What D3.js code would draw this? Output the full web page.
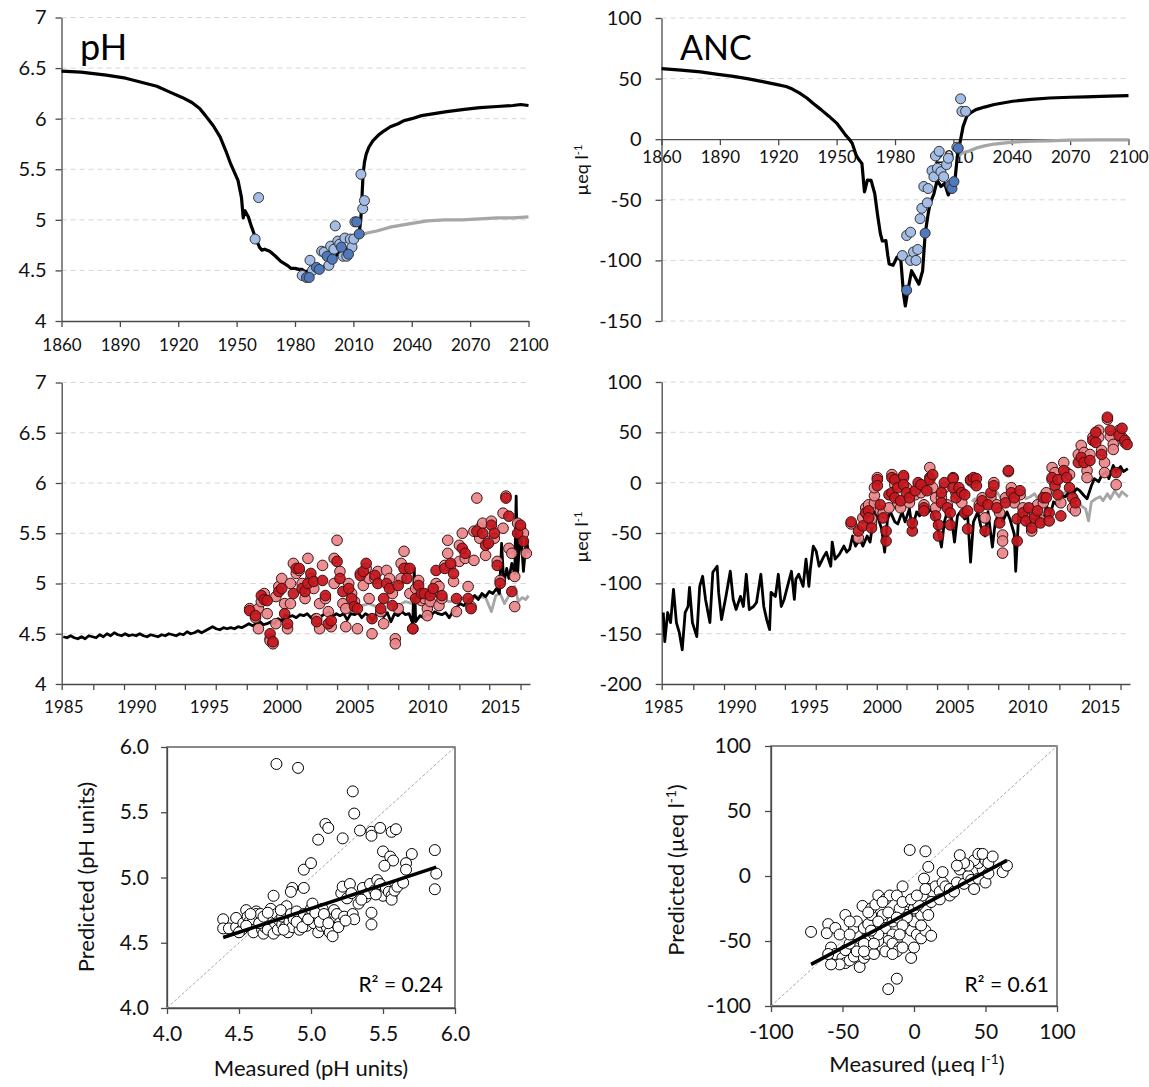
<!DOCTYPE html>
<html>
<head>
<meta charset="utf-8">
<script src="https://cdn.jsdelivr.net/npm/d3@7"></script>
<style>
  body { margin: 0; background: #fff; }
  svg { font-family: Lato, "Open Sans", sans-serif; }
  .grid line { stroke: #d6d6d6; stroke-width: 1; stroke-dasharray: 5,4; }
  .axis path, .axis line { stroke: #4a4a4a; stroke-width: 1.3; }
  .axis text { fill: #111; }
</style>
</head>
<body>
<svg id="chart" width="1149" height="1087"></svg>
<script>
// ---- tick labels ----
const longYears = [1860, 1890, 1920, 1950, 1980, 2010, 2040, 2070, 2100];
const monthLabels = [1985, 1990, 1995, 2000, 2005, 2010, 2015];
const monthTickMarks = [1984.89, 1987.06, 1989.17, 1991.3, 1993.35, 1995.47, 1997.6, 1999.66, 2001.7, 2003.8, 2005.9, 2008.0, 2010.07, 2012.2, 2014.25, 2016.4];
const phTicks = [4, 4.5, 5, 5.5, 6, 6.5, 7];
const ancLongTicks = [-150, -100, -50, 0, 50, 100];
const ancMonthTicks = [-200, -150, -100, -50, 0, 50, 100];
const phFitTicks = [4, 4.5, 5, 5.5, 6];
const ancFitTicks = [-100, -50, 0, 50, 100];

// ---- pH, 1860-2100 ----
const phHindcast = [[1860,6.47],[1870,6.46],[1883,6.43],[1893,6.40],[1901,6.36],[1909,6.32],[1916,6.26],[1922,6.21],[1927,6.16],[1931,6.10],[1934,6.03],[1938,5.93],[1941.5,5.82],[1944.5,5.68],[1947,5.55],[1950.7,5.39],[1952.5,5.22],[1953.4,5.02],[1954.3,5.09],[1956,5.03],[1957.5,4.94],[1959,4.86],[1961.7,4.73],[1963,4.70],[1964.4,4.71],[1967,4.69],[1970,4.64],[1972.7,4.59],[1976,4.55],[1978,4.52],[1980,4.52],[1982,4.51],[1983.7,4.51],[1985,4.49],[1987,4.49],[1989,4.50],[1991,4.50],[1993,4.52],[1994.6,4.53],[1996,4.56],[1998,4.59],[2000,4.62],[2002,4.66],[2004,4.69],[2005.6,4.71],[2007,4.72],[2009,4.73],[2011,4.78],[2012,4.82],[2013,4.88],[2013.7,4.98],[2014.2,5.12],[2014.6,5.30],[2015,5.45],[2015.7,5.57],[2016.6,5.65],[2018,5.72],[2020,5.78],[2023,5.84],[2025.8,5.88],[2029,5.92],[2033,5.95],[2036,5.98],[2040,6.00],[2045,6.03],[2051.5,6.05],[2058,6.07],[2066,6.09],[2075,6.11],[2084,6.12],[2092,6.13],[2096,6.14],[2100,6.13]];
const phScenario = [[2010,4.80],[2013,4.84],[2017,4.87],[2022,4.89],[2029.5,4.93],[2038.6,4.96],[2048,4.99],[2057,5.0],[2066,5.0],[2075,5.01],[2084,5.02],[2092,5.02],[2100,5.03]];
const phObsLight = [[1961.3,5.22],[1959.5,4.81],[1983.7,4.45],[1987.7,4.60],[1989,4.50],[1993.7,4.69],[1995,4.68],[1997.4,4.55],[1998.3,4.74],[2000,4.71],[2000.7,4.94],[2002,4.79],[2003,4.76],[2004.7,4.64],[2005.6,4.82],[2006.6,4.64],[2008.4,4.81],[2009.3,4.73],[2010.2,4.81],[2010.8,4.98],[2013.9,5.45],[2014.8,5.11],[2015.7,5.19]];
const phObsDark = [[1985.9,4.43],[1987.3,4.43],[1991,4.53],[1992.5,4.51],[1996.5,4.64],[1999.2,4.61],[2003.8,4.73],[2007.5,4.66],[2011.7,4.98],[2013,4.86]];

// ---- ANC, 1860-2100 ----
const ancHindcast = [[1860,58.2],[1870,57],[1880,55.5],[1889,53.5],[1897,51.8],[1904,50],[1912,47.5],[1919.5,45],[1924,43.5],[1927,41.6],[1931,38],[1934.7,34],[1938,29.5],[1942,24.4],[1946,19],[1950,13.3],[1952.5,8],[1954.5,3.6],[1956.5,0],[1958,-3.3],[1959,-8],[1960,-13],[1961.5,-17],[1963,-20],[1964.3,-43.5],[1965.8,-33.7],[1967.7,-34],[1969.6,-45],[1971,-62],[1972.5,-78],[1973.5,-84],[1974.2,-84],[1975.3,-83.6],[1976.3,-96],[1977,-103],[1979,-104],[1981,-97.4],[1982,-98],[1983,-100],[1984.4,-128],[1985.3,-137.6],[1986.6,-125],[1988.5,-108.5],[1990.4,-114],[1992.3,-119.6],[1994.2,-108.5],[1995.5,-78],[1997,-62],[1998,-53],[2000,-45],[2001.7,-33.7],[2003.6,-39],[2005.5,-36.5],[2007.4,-46],[2009.3,-38],[2011,-31],[2012,-14.4],[2013,-6],[2014,2],[2015,10.6],[2016.9,19],[2019,22],[2021.6,24.4],[2026,26.5],[2031,28.6],[2040.5,31.3],[2050,32.8],[2059.4,34],[2070,34.6],[2078,35],[2090,35.5],[2100,36]];
const ancScenario = [[2012,-14],[2015,-11],[2017.8,-10],[2021.6,-7.4],[2026,-5.5],[2031,-4],[2040.5,-2.4],[2050,-1.7],[2059,-1.3],[2070,-0.8],[2084,-0.5],[2100,-0.5]];
const ancObsLight = [[1983.8,-96],[1986,-79.5],[1988,-76.7],[1988,-100],[1989.5,-93],[1990.8,-100],[1991.7,-91],[1992.9,-65.6],[1993.8,-57],[1996.6,-52.5],[1994.8,-39],[1997,-40.7],[1999,-26],[2000,-31],[2000.8,-13.8],[2001.8,-24],[2002.7,-10],[2003.6,-26.8],[2005,-31],[2006.5,-21],[2007.4,-15.7],[2011.8,-6.6],[2013.7,33.3],[2014.4,23],[2016.3,23]];
const ancObsDark = [[1986,-124.6],[1995.5,-77.5],[2008.4,-38],[2009.3,-40.7],[2010.3,-35],[2012.5,-7.4]];

// ---- pH, 1985-2017 ----
const phMonthly = [[1985.0,4.47],[1985.25,4.46],[1985.5,4.48],[1985.75,4.46],[1986.0,4.45],[1986.25,4.47],[1986.5,4.45],[1986.75,4.48],[1987.0,4.47],[1987.25,4.46],[1987.5,4.49],[1987.75,4.47],[1988.0,4.5],[1988.25,4.48],[1988.5,4.51],[1988.75,4.49],[1989.0,4.48],[1989.25,4.5],[1989.5,4.48],[1989.75,4.49],[1990.0,4.48],[1990.25,4.5],[1990.5,4.48],[1990.75,4.47],[1991.0,4.49],[1991.25,4.48],[1991.5,4.47],[1991.75,4.49],[1992.0,4.48],[1992.25,4.5],[1992.5,4.49],[1992.75,4.48],[1993.0,4.5],[1993.25,4.49],[1993.5,4.52],[1993.75,4.5],[1994.0,4.51],[1994.25,4.53],[1994.5,4.51],[1994.75,4.53],[1995.0,4.55],[1995.25,4.57],[1995.5,4.55],[1995.75,4.54],[1996.0,4.56],[1996.25,4.55],[1996.5,4.56],[1996.75,4.55],[1997.0,4.57],[1997.25,4.56],[1997.5,4.58],[1997.75,4.6],[1998.0,4.58],[1998.25,4.6],[1998.5,4.62],[1998.75,4.59],[1999.0,4.6],[1999.25,4.62],[1999.5,4.6],[1999.75,4.65],[2000.0,4.63],[2000.25,4.69],[2000.5,4.67],[2000.75,4.68],[2001.0,4.66],[2001.25,4.69],[2001.5,4.68],[2001.75,4.7],[2002.0,4.66],[2002.25,4.69],[2002.5,4.63],[2002.75,4.68],[2003.0,4.7],[2003.25,4.72],[2003.5,4.67],[2003.75,4.7],[2004.0,4.68],[2004.25,4.7],[2004.5,4.64],[2004.75,4.7],[2005.0,4.69],[2005.25,4.71],[2005.5,4.66],[2005.75,4.7],[2006.0,4.68],[2006.25,4.63],[2006.5,4.7],[2006.75,4.72],[2007.0,4.67],[2007.25,4.71],[2007.5,4.62],[2007.75,4.7],[2008.0,4.68],[2008.25,4.72],[2008.5,4.69],[2008.75,4.7],[2009.0,4.6],[2009.1,5.15],[2009.2,4.62],[2009.5,4.68],[2009.75,4.66],[2010.0,4.7],[2010.25,4.68],[2010.5,4.72],[2010.75,4.7],[2011.0,4.69],[2011.25,4.71],[2011.5,4.66],[2011.75,4.72],[2012.0,4.76],[2012.25,4.8],[2012.5,4.78],[2012.75,4.82],[2013.0,4.85],[2013.25,4.88],[2013.5,4.84],[2013.75,4.9],[2014.0,4.87],[2014.25,4.92],[2014.5,4.9],[2014.75,4.95],[2014.95,4.9],[2015.1,5.4],[2015.25,5.0],[2015.45,5.15],[2015.6,5.05],[2015.8,5.2],[2016.0,5.1],[2016.1,5.87],[2016.2,5.1],[2016.4,5.55],[2016.6,5.12],[2016.8,5.45],[2016.95,5.3]];
const phMonthlyAlt = [[2004.5,4.7],[2005.0,4.76],[2005.5,4.78],[2006.0,4.8],[2006.5,4.77],[2007.0,4.82],[2007.5,4.8],[2008.0,4.78],[2008.5,4.82],[2009.0,4.8],[2009.5,4.84],[2010.0,4.82],[2010.5,4.8],[2011.0,4.85],[2011.5,4.82],[2012.0,4.83],[2012.5,4.86],[2013.0,4.84],[2013.5,4.87],[2014.0,4.86],[2014.4,4.72],[2014.7,4.88],[2015.0,4.9],[2015.3,4.8],[2015.6,4.88],[2016.0,4.97],[2016.25,4.82],[2016.5,4.86],[2016.75,4.84],[2016.95,4.88]];
const phSampleLight = [[1997.8,4.75],[1998.2,4.66],[1998.4,4.55],[1998.4,4.75],[1998.6,4.82],[1998.8,4.9],[1999.0,4.7],[1999.2,4.45],[1999.2,4.43],[1999.4,4.4],[1999.6,4.6],[1999.6,4.87],[1999.8,4.97],[2000.0,5.05],[2000.2,4.8],[2000.4,4.55],[2000.6,4.8],[2000.6,5.0],[2000.8,5.2],[2001.0,5.1],[2001.2,5.13],[2001.4,5.0],[2001.6,4.85],[2001.8,5.25],[2002.0,5.05],[2002.2,4.95],[2002.4,4.65],[2002.6,4.55],[2002.6,4.8],[2002.8,5.18],[2003.0,4.85],[2003.2,4.72],[2003.4,4.57],[2003.6,5.0],[2003.6,5.25],[2003.8,5.43],[2004.0,5.12],[2004.2,4.8],[2004.4,4.75],[2004.4,4.57],[2004.6,5.0],[2004.8,4.9],[2005.0,4.82],[2005.2,4.55],[2005.4,5.1],[2005.6,4.98],[2005.8,5.15],[2006.0,5.05],[2006.0,4.85],[2006.2,4.5],[2006.4,5.05],[2006.6,5.12],[2006.8,4.72],[2007.0,4.6],[2007.2,5.13],[2007.4,5.05],[2007.6,4.9],[2007.8,4.45],[2007.8,4.4],[2008.0,4.75],[2008.2,5.05],[2008.2,5.2],[2008.4,5.32],[2008.6,5.15],[2008.8,4.9],[2009.0,4.55],[2009.2,4.95],[2009.4,5.03],[2009.6,4.83],[2009.8,4.85],[2010.0,4.75],[2010.0,4.68],[2010.2,4.82],[2010.4,4.92],[2010.6,5.0],[2010.8,4.97],[2010.8,4.78],[2011.0,4.85],[2011.2,5.18],[2011.4,5.3],[2011.4,5.43],[2011.6,5.18],[2011.8,5.02],[2012.0,4.72],[2012.2,5.22],[2012.2,5.38],[2012.4,5.5],[2012.6,5.25],[2012.8,4.97],[2013.0,4.77],[2013.2,5.23],[2013.2,5.52],[2013.4,5.85],[2013.6,5.45],[2013.6,5.55],[2013.8,5.6],[2014.0,5.28],[2014.2,5.42],[2014.4,5.62],[2014.6,5.45],[2014.8,5.22],[2015.0,5.03],[2015.2,5.55],[2015.2,5.7],[2015.4,5.87],[2015.6,5.35],[2015.8,5.3],[2016.0,4.77],[2016.0,5.07],[2016.2,5.6],[2016.4,5.55],[2016.6,5.5],[2016.8,5.3]];
const phSampleDark = [[1997.8,4.73],[1998.2,4.68],[1998.6,4.88],[1998.8,4.84],[1999.0,4.83],[1999.2,4.5],[1999.4,4.42],[1999.8,4.92],[2000.0,4.95],[2000.2,4.7],[2000.4,4.6],[2000.8,4.9],[2001.0,5.15],[2001.2,5.15],[2001.4,4.95],[2001.6,4.92],[2001.8,5.0],[2002.0,5.1],[2002.2,5.02],[2002.4,4.62],[2002.8,5.03],[2003.0,4.88],[2003.2,4.6],[2003.4,4.63],[2003.8,5.22],[2004.0,5.05],[2004.2,4.92],[2004.6,4.95],[2004.8,4.85],[2005.0,4.77],[2005.2,4.75],[2005.4,5.08],[2005.6,5.12],[2005.8,5.2],[2006.2,4.65],[2006.4,5.08],[2006.6,5.0],[2006.8,4.75],[2007.0,4.85],[2007.2,5.0],[2007.4,4.95],[2007.6,4.78],[2008.0,4.98],[2008.4,5.15],[2008.6,5.05],[2008.8,5.15],[2009.0,4.55],[2009.2,4.85],[2009.4,4.98],[2009.6,4.9],[2009.8,4.9],[2010.2,4.88],[2010.4,4.95],[2010.6,5.13],[2011.0,4.88],[2011.2,5.15],[2011.6,5.2],[2011.8,5.1],[2012.0,4.85],[2012.4,5.35],[2012.6,5.3],[2012.8,4.85],[2013.0,4.75],[2013.4,5.52],[2013.8,5.5],[2014.0,5.38],[2014.2,5.4],[2014.4,5.58],[2014.6,5.5],[2014.8,5.18],[2015.0,5.0],[2015.4,5.85],[2015.6,5.67],[2015.8,4.92],[2016.2,5.5],[2016.4,5.58],[2016.6,5.42]];

// ---- ANC, 1985-2017 ----
const ancMonthly = [[1985,-129],[1985.1,-158],[1985.3,-129],[1985.5,-139],[1985.7,-106],[1985.9,-139],[1986.1,-149],[1986.3,-166],[1986.5,-129],[1986.7,-123],[1986.8,-104],[1987,-139],[1987.3,-153],[1987.5,-103],[1987.7,-93],[1987.9,-116],[1988.2,-139],[1988.4,-89],[1988.7,-83],[1988.8,-109],[1989,-136],[1989.3,-113],[1989.6,-88],[1989.8,-116],[1990,-126],[1990.3,-113],[1990.5,-123],[1990.7,-91],[1990.9,-126],[1991.2,-123],[1991.4,-119],[1991.7,-91],[1991.9,-123],[1992.1,-136],[1992.3,-146],[1992.4,-109],[1992.7,-113],[1992.9,-91],[1993.1,-123],[1993.3,-116],[1993.6,-99],[1993.8,-88],[1994,-116],[1994.1,-96],[1994.3,-91],[1994.6,-103],[1994.8,-76],[1995,-103],[1995.1,-86],[1995.3,-63],[1995.5,-68],[1995.7,-83],[1996,-74],[1996.2,-69],[1996.5,-83],[1996.6,-59],[1996.8,-76],[1997.1,-71],[1997.4,-63],[1997.6,-69],[1997.8,-66],[1998,-53],[1998.2,-63],[1998.5,-56],[1998.7,-63],[1999,-53],[1999.2,-59],[1999.5,-29],[1999.7,-33],[2000,-46],[2000.2,-69],[2000.4,-36],[2000.6,-29],[2000.9,-39],[2001.1,-41],[2001.4,-29],[2001.6,-39],[2001.9,-26],[2002.1,-46],[2002.4,-29],[2002.6,-33],[2002.9,-26],[2003.1,-31],[2003.4,-26],[2003.7,-39],[2003.9,-49],[2004.1,-64],[2004.3,-39],[2004.5,-29],[2004.8,-36],[2005,-59],[2005.2,-33],[2005.4,-29],[2005.7,-36],[2005.9,-33],[2006.1,-79],[2006.3,-39],[2006.6,-29],[2006.8,-43],[2007.1,-53],[2007.3,-29],[2007.6,-64],[2007.8,-39],[2008.1,-29],[2008.3,-39],[2008.6,-29],[2008.8,-36],[2009.1,-51],[2009.2,-88],[2009.4,-33],[2009.6,-26],[2009.8,-33],[2010.1,-49],[2010.3,-33],[2010.6,-39],[2010.8,-29],[2011.1,-41],[2011.3,-23],[2011.6,-31],[2011.8,-19],[2012.1,-23],[2012.4,-13],[2012.6,-14],[2012.9,-9],[2013.1,-11],[2013.4,-6],[2013.6,-8],[2013.9,-13],[2014.1,-16],[2014.4,-3],[2014.6,4],[2014.9,1],[2015.1,7],[2015.4,11],[2015.6,4],[2015.9,17],[2016.1,11],[2016.4,16],[2016.6,11],[2016.9,14]];
const ancMonthlyAlt = [[2006.2,-19],[2006.4,-16],[2006.7,-23],[2006.9,-14],[2007.2,-19],[2007.4,-11],[2007.7,-16],[2007.9,-9],[2008.2,-16],[2008.4,-11],[2008.7,-19],[2008.9,-14],[2009.2,-23],[2009.4,-13],[2009.7,-9],[2009.9,-16],[2010.2,-14],[2010.5,-11],[2010.7,-16],[2011,-9],[2011.2,-14],[2011.5,-11],[2011.7,-8],[2012,-13],[2012.2,-9],[2012.5,-11],[2012.7,-8],[2013,-11],[2013.2,-9],[2013.5,-16],[2013.7,-23],[2014,-26],[2014.2,-38],[2014.4,-19],[2014.7,-16],[2015,-14],[2015.2,-18],[2015.5,-11],[2015.7,-16],[2016,-8],[2016.3,-14],[2016.5,-9],[2016.9,-14]];
const ancSampleLight = [[1997.9,-41],[1998.4,-55],[1998.7,-35],[1998.9,-25],[1999.1,-22],[1999.3,-40],[1999.3,-36],[1999.5,-20],[1999.5,-13],[1999.5,-5],[1999.7,5],[1999.9,-28],[2000.1,-30],[2000.5,-25],[2000.7,8],[2000.9,-2],[2001.1,-20],[2001.3,-25],[2001.5,5],[2001.7,-5],[2001.9,-20],[2002.3,-12],[2002.5,-5],[2002.7,-10],[2002.9,-22],[2003.1,-5],[2003.3,15],[2003.5,-5],[2003.7,-25],[2003.7,-15],[2004.1,-15],[2004.3,-5],[2004.5,-22],[2004.9,5],[2005.1,-10],[2005.3,-12],[2005.5,-20],[2006.1,2],[2006.3,0],[2006.7,-22],[2006.9,-15],[2007.1,-35],[2007.3,-20],[2007.5,-15],[2007.7,0],[2007.9,-22],[2008.1,-30],[2008.3,-52],[2008.3,-58],[2008.3,-70],[2008.5,-15],[2008.7,11],[2008.9,-5],[2009.1,-20],[2009.5,-12],[2009.7,-25],[2009.9,-33],[2010.1,-30],[2010.3,-48],[2010.5,-30],[2010.7,-22],[2010.9,-37],[2011.1,-20],[2011.3,-10],[2011.7,3],[2011.7,15],[2011.9,10],[2012.3,-20],[2012.5,20],[2012.7,10],[2012.9,8],[2013.1,-25],[2013.3,-28],[2013.5,28],[2013.7,37],[2013.9,30],[2014.1,12],[2014.1,5],[2014.3,28],[2014.5,45],[2014.9,52],[2014.9,45],[2015.1,32],[2015.3,20],[2015.3,10],[2015.5,63],[2015.7,46],[2015.9,38],[2015.9,33],[2016.1,-2],[2016.3,52],[2016.5,45],[2016.7,40]];
const ancSampleDark = [[1997.9,-39],[1998.4,-48],[1998.7,-43],[1998.9,-30],[1999.1,-28],[1999.1,-35],[1999.3,-45],[1999.7,3],[1999.7,-3],[1999.9,-22],[2000.1,-35],[2000.3,-58],[2000.3,-48],[2000.5,-12],[2000.7,5],[2000.7,-10],[2000.9,3],[2000.9,-15],[2001.1,-5],[2001.3,-18],[2001.5,7],[2001.5,-2],[2001.7,-10],[2001.9,-15],[2002.1,-48],[2002.1,-40],[2002.3,-8],[2002.5,0],[2002.7,-2],[2002.9,-25],[2002.9,-28],[2003.1,-8],[2003.3,5],[2003.3,3],[2003.5,8],[2003.7,-33],[2003.9,-53],[2003.9,-42],[2004.1,-10],[2004.1,-20],[2004.3,0],[2004.5,-25],[2004.7,-42],[2004.7,-30],[2004.9,4],[2004.9,-5],[2005.1,-15],[2005.3,-5],[2005.5,-10],[2005.7,-30],[2005.7,-12],[2005.9,-46],[2005.9,-28],[2006.1,3],[2006.3,5],[2006.5,4],[2006.5,-3],[2006.7,-25],[2006.9,-18],[2007.1,-48],[2007.3,-22],[2007.5,-10],[2007.7,-3],[2007.9,-25],[2008.1,-40],[2008.5,-20],[2008.7,12],[2008.9,-10],[2009.1,-15],[2009.3,-58],[2009.3,-36],[2009.5,-8],[2009.7,-30],[2009.9,-38],[2010.1,-25],[2010.3,-45],[2010.5,-35],[2010.7,-28],[2010.9,-40],[2011.1,-15],[2011.3,-15],[2011.5,-30],[2011.5,-38],[2011.7,5],[2011.9,-3],[2012.1,3],[2012.1,-12],[2012.3,-33],[2012.5,12],[2012.7,5],[2012.9,-5],[2013.1,-15],[2013.3,-20],[2013.5,20],[2013.7,25],[2013.9,20],[2014.3,22],[2014.5,42],[2014.7,50],[2014.7,40],[2015.1,28],[2015.5,65],[2015.7,52],[2016.1,10],[2016.3,47],[2016.5,54],[2016.7,42],[2016.85,38]];

// ---- measured vs predicted ----
const phFit = [[4.76,5.87],[4.91,5.84],[5.29,5.66],[5.3,5.49],[5.1,5.41],[5.12,5.38],[5.05,5.29],[5.22,5.3],[5.34,5.36],[5.42,5.35],[5.42,5.32],[5.48,5.38],[5.56,5.35],[5.59,5.37],[4.95,5.06],[5.0,5.11],[5.5,5.2],[5.55,5.16],[5.57,5.13],[5.7,5.18],[5.66,5.11],[5.66,5.06],[5.86,5.21],[5.87,5.03],[5.86,4.91],[5.51,5.09],[4.87,4.92],[4.95,4.92],[4.74,4.86],[4.86,4.89],
  [4.39,4.68],[4.39,4.61],[4.43,4.61],[4.48,4.62],[4.48,4.69],[4.52,4.6],[4.53,4.65],[4.55,4.75],[4.56,4.7],[4.57,4.66],[4.59,4.62],[4.6,4.68],[4.6,4.58],[4.62,4.74],[4.62,4.72],[4.65,4.72],[4.66,4.6],[4.67,4.57],[4.68,4.62],[4.69,4.67],[4.7,4.6],[4.72,4.76],[4.73,4.7],[4.74,4.57],[4.75,4.65],[4.76,4.72],[4.77,4.6],[4.78,4.67],[4.8,4.64],[4.8,4.7],[4.82,4.62],[4.83,4.78],[4.84,4.58],[4.85,4.66],[4.86,4.72],[4.87,4.62],[4.88,4.68],[4.9,4.74],[4.92,4.6],[4.93,4.67],[4.95,4.72],[4.97,4.63],[4.99,4.7],[5.0,4.76],[5.01,4.8],[5.02,4.65],[5.04,4.7],[5.05,4.58],[5.07,4.63],[5.08,4.76],[5.1,4.68],[5.11,4.62],[5.13,4.58],[5.15,4.55],[5.16,4.75],[5.17,4.66],[5.18,4.72],[5.2,4.65],[5.21,4.88],[5.22,4.93],[5.23,4.7],[5.25,4.84],[5.27,4.95],[5.29,4.72],[5.3,4.68],[5.33,4.8],[5.36,4.92],[5.38,4.85],[5.4,4.88],[5.41,4.95],[5.42,4.73],[5.42,4.64],[5.44,4.9],[5.46,4.98],[5.48,4.95],[5.5,4.86],[5.52,4.92],[5.54,4.89],[5.56,4.86],[5.56,4.83],[5.58,4.9],[5.6,4.93],[5.64,4.96],
  [4.5,4.58],[4.55,4.63],[4.58,4.72],[4.64,4.65],[4.67,4.7],[4.7,4.73],[4.79,4.75],[4.81,4.6],[4.9,4.66],[4.94,4.62],[4.98,4.68],[5.03,4.73],[5.06,4.66],[5.09,4.72],[5.12,4.65],[5.19,4.62],[5.24,4.67],[5.28,4.88],[5.35,4.83],[5.45,4.87]];
const phFitLine = [[4.39,4.54],[5.87,5.08]];
const ancFit = [[-72,-43],[-3,20],[8,19],[-18,-87],[-12,-79],[-2,-63],[10,7],[7,-2],
  [-60,-37],[-61,-44],[-55,-40],[-52,-45],[-58,-55],[-55,-60],[-50,-63],[-48,-67],[-45,-65],[-42,-62],[-48,-57],[-45,-52],[-40,-58],[-38,-70],[-35,-63],[-33,-60],[-30,-55],[-38,-48],[-35,-52],[-40,-45],[-42,-40],[-48,-30],[-40,-35],[-35,-40],[-32,-37],[-30,-30],[-36,-23],[-30,-25],[-27,-22],[-25,-15],[-20,-18],[-17,-15],[-12,-15],[-8,-8],[-22,-30],[-25,-35],[-20,-40],[-15,-45],[-12,-50],[-18,-50],[-22,-55],[-28,-45],[-25,-50],[-20,-58],[-15,-52],[-10,-55],[-12,-58],[-5,-40],[-2,-42],[2,-45],[5,-48],[8,-42],[12,-46],[0,-35],[5,-30],[8,-25],[10,-30],[-5,-30],[-10,-25],[-3,-20],[0,-25],[3,-22],[6,-15],[10,-10],[13,-12],[15,-8],[18,-12],[20,-5],[22,-8],[25,-10],[20,3],[25,-15],[28,-12],[30,-5],[32,5],[35,-6],[38,0],[40,-3],[42,-10],[45,-2],[48,5],[50,-5],[52,2],[45,10],[48,15],[50,12],[42,12],[38,8],[35,10],[30,8],[32,16],[45,17],[48,17],[52,10],[62,3],[65,8],[55,15],
  [-8,-55],[-5,-32],[-15,-35],[-28,-60],[-45,-45],[-52,-68],[-58,-68],[-60,-60],[-25,-45],[-30,-42],[-18,-28],[-22,-20],[-12,-32],[-8,-20],[-2,-18],[2,-15],[12,-20],[18,-18],[8,-10],[-8,-38],[-32,-28],[-45,-35],[-28,-52],[-35,-58],[-10,-45],[-15,-60],[0,-55],[5,-38]];
const ancFitLine = [[-72,-68],[65,12]];

const svg = d3.select("#chart");
const plain = d => String(d);

function grid(x, y, vals) {
    svg.append("g").attr("class", "grid")
        .selectAll("line").data(vals).join("line")
        .attr("x1", x.range()[0]).attr("x2", x.range()[1])
        .attr("y1", d => y(d)).attr("y2", d => y(d));
}

function leftAxis(x0, y, ticks, fmt, size, pad) {
    svg.append("g").attr("class", "axis")
        .attr("transform", "translate(" + x0 + ",0)")
        .call(d3.axisLeft(y).tickValues(ticks).tickFormat(fmt).tickSize(6).tickSizeOuter(0).tickPadding(pad))
        .attr("font-family", null).attr("font-size", size);
}

function bottomAxis(y0, x, ticks, fmt, size, pad, tickLen) {
    return svg.append("g").attr("class", "axis")
        .attr("transform", "translate(0," + y0 + ")")
        .call(d3.axisBottom(x).tickValues(ticks).tickFormat(fmt).tickSize(tickLen).tickSizeOuter(0).tickPadding(pad))
        .attr("font-family", null).attr("font-size", size);
}

function line(x, y, data, color, width) {
    return svg.append("path").datum(data)
        .attr("fill", "none").attr("stroke", color).attr("stroke-width", width)
        .attr("stroke-linejoin", "round")
        .attr("d", d3.line().x(d => x(d[0])).y(d => y(d[1])));
}

function dots(x, y, data, fill, r, stroke, op) {
    svg.append("g").selectAll("circle").data(data).join("circle")
        .attr("cx", d => x(d[0])).attr("cy", d => y(d[1])).attr("r", r)
        .attr("fill", fill).attr("fill-opacity", op)
        .attr("stroke", stroke).attr("stroke-width", 1);
}

function unitLabel(tx, ty, rotate, size, pre, sup, post) {
    const t = svg.append("text")
        .attr("transform", "translate(" + tx + "," + ty + ")" + (rotate ? " rotate(-90)" : ""))
        .attr("text-anchor", "middle").attr("font-size", size).attr("fill", "#111");
    t.append("tspan").text(pre);
    if (sup) {
        t.append("tspan").attr("baseline-shift", "super").attr("font-size", size * 0.62).text(sup);
        t.append("tspan").text(post);
    }
}

// ---- panel 1: pH 1860-2100 ----
const x1 = d3.scaleLinear().domain([1860, 2100]).range([61.5, 528.5]);
const y1 = d3.scaleLinear().domain([4, 7]).range([321, 17.5]);
grid(x1, y1, phTicks.slice(1));
leftAxis(61.5, y1, phTicks, plain, 20, 9);
bottomAxis(321, x1, longYears, plain, 17, 12, 6);
line(x1, y1, phScenario, "#a6a6a6", 3.2);
line(x1, y1, phHindcast, "#000", 3.2);
dots(x1, y1, phObsLight, "#a3bde6", 5, "#333", 1);
dots(x1, y1, phObsDark, "#4f78bd", 5, "#333", 1);
svg.append("text").attr("x", 80).attr("y", 60).attr("font-size", 36).text("pH");

// ---- panel 2: ANC 1860-2100 ----
const x2 = d3.scaleLinear().domain([1860, 2100]).range([661.5, 1128.5]);
const y2 = d3.scaleLinear().domain([-150, 100]).range([321, 18]);
grid(x2, y2, [-150, -100, -50, 50, 100]);
leftAxis(661.5, y2, ancLongTicks, plain, 20, 14);
bottomAxis(y2(0), x2, longYears, plain, 17, 6, 6);
line(x2, y2, ancScenario, "#a6a6a6", 3.2);
line(x2, y2, ancHindcast, "#000", 3.2);
dots(x2, y2, ancObsLight, "#a3bde6", 5, "#333", 1);
dots(x2, y2, ancObsDark, "#4f78bd", 5, "#333", 1);
svg.append("text").attr("x", 680).attr("y", 60).attr("font-size", 34).text("ANC");
unitLabel(588, 170, true, 18, "µeq l", "-1", "");

// ---- panel 3: pH 1985-2017 ----
const x3 = d3.scaleLinear().domain([1984.89, 2017.05]).range([61.7, 530]);
const y3 = d3.scaleLinear().domain([4, 7]).range([684, 382.5]);
grid(x3, y3, phTicks.slice(1));
leftAxis(61.7, y3, phTicks, plain, 20, 9);
bottomAxis(684, x3, monthTickMarks, "", 17, 0, 6);
bottomAxis(684, x3, monthLabels, plain, 17, 17, 0).select(".domain").remove();
line(x3, y3, phMonthlyAlt, "#a6a6a6", 2.8);
line(x3, y3, phMonthly, "#000", 2.8);
dots(x3, y3, phSampleLight, "#e9868a", 5.3, "#3a1212", 0.92);
dots(x3, y3, phSampleDark, "#c5161d", 5.3, "#3a1212", 0.92);

// ---- panel 4: ANC 1985-2017 ----
const x4 = d3.scaleLinear().domain([1984.89, 2017.05]).range([661.7, 1130]);
const y4 = d3.scaleLinear().domain([-200, 100]).range([684, 382]);
grid(x4, y4, ancMonthTicks.slice(1));
leftAxis(661.7, y4, ancMonthTicks, plain, 20, 14);
bottomAxis(684, x4, monthTickMarks, "", 17, 0, 6);
bottomAxis(684, x4, monthLabels, plain, 17, 17, 0).select(".domain").remove();
line(x4, y4, ancMonthlyAlt, "#a6a6a6", 2.8);
line(x4, y4, ancMonthly, "#000", 2.8);
dots(x4, y4, ancSampleLight, "#e9868a", 5.3, "#3a1212", 0.92);
dots(x4, y4, ancSampleDark, "#c5161d", 5.3, "#3a1212", 0.92);
unitLabel(588, 537, true, 18, "µeq l", "-1", "");

// ---- panel 5: pH measured vs predicted ----
const x5 = d3.scaleLinear().domain([4, 6]).range([167, 455]);
const y5 = d3.scaleLinear().domain([4, 6]).range([1008, 747]);
const fmt1 = d3.format(".1f");
svg.append("rect").attr("x", 167).attr("y", 747).attr("width", 288).attr("height", 261)
    .attr("fill", "none").attr("stroke", "#4a4a4a").attr("stroke-width", 1.3);
leftAxis(167, y5, phFitTicks, fmt1, 21, 12);
bottomAxis(1008, x5, phFitTicks, fmt1, 21, 12, 6);
line(x5, y5, [[4, 4], [6, 6]], "#a6a6a6", 1).attr("stroke-dasharray", "3,2");
dots(x5, y5, phFit, "#fff", 5.5, "#000", 1);
line(x5, y5, phFitLine, "#000", 3.5);
svg.append("text").attr("x", 443).attr("y", 992).attr("text-anchor", "end")
    .attr("font-size", 21).text("R² = 0.24");
unitLabel(94, 877, true, 22, "Predicted (pH units)");
unitLabel(311, 1076, false, 22, "Measured (pH units)");

// ---- panel 6: ANC measured vs predicted ----
const x6 = d3.scaleLinear().domain([-100, 100]).range([771, 1057]);
const y6 = d3.scaleLinear().domain([-100, 100]).range([1006, 746]);
svg.append("rect").attr("x", 771).attr("y", 746).attr("width", 286).attr("height", 260)
    .attr("fill", "none").attr("stroke", "#4a4a4a").attr("stroke-width", 1.3);
leftAxis(771, y6, ancFitTicks, plain, 21, 14);
bottomAxis(1006, x6, ancFitTicks, plain, 21, 12, 6);
line(x6, y6, [[-100, -100], [100, 100]], "#a6a6a6", 1).attr("stroke-dasharray", "3,2");
dots(x6, y6, ancFit, "#fff", 5.5, "#000", 1);
line(x6, y6, ancFitLine, "#000", 3.5);
svg.append("text").attr("x", 1049).attr("y", 992).attr("text-anchor", "end")
    .attr("font-size", 21).text("R² = 0.61");
unitLabel(684, 870, true, 22, "Predicted (µeq l", "-1", ")");
unitLabel(917, 1072, false, 22, "Measured (µeq l", "-1", ")");
</script>
</body>
</html>
